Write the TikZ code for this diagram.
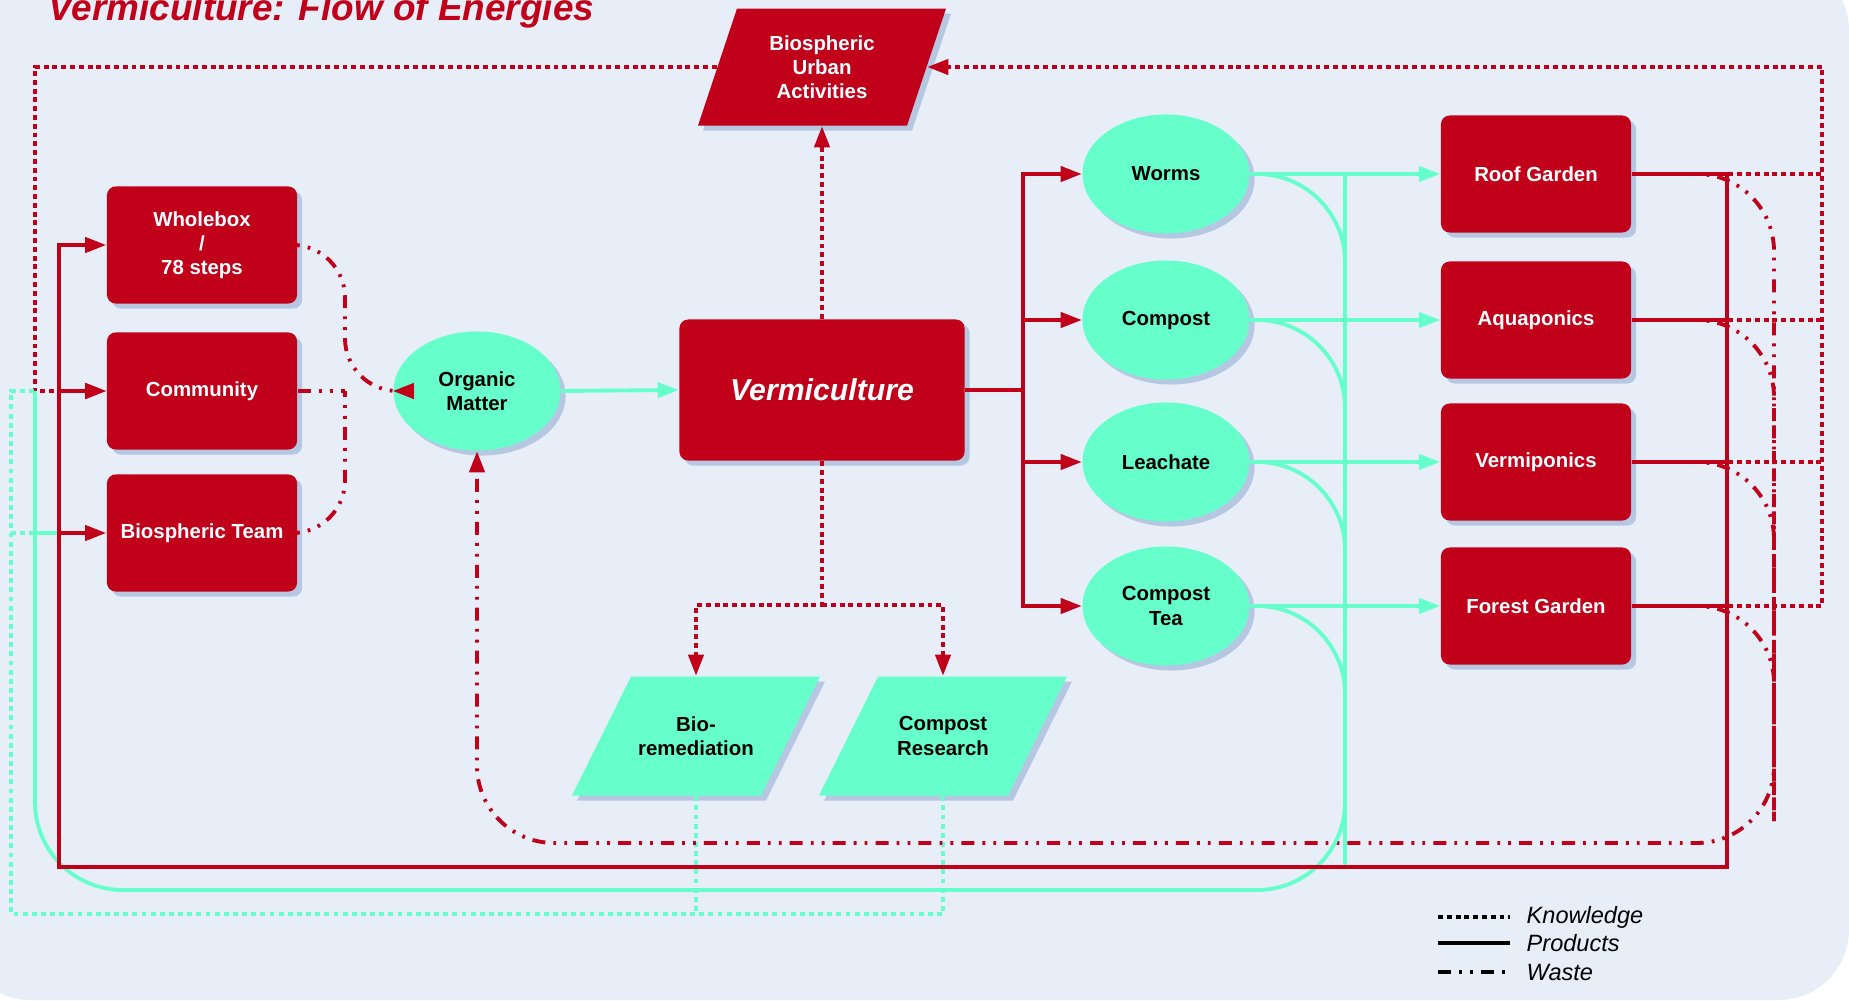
\documentclass[tikz,border=0pt]{standalone}
\usepackage{fontspec}
\setmainfont{Liberation Sans}
\usetikzlibrary{shapes}
\usetikzlibrary{arrows.meta}
\usetikzlibrary{shadows}
\usetikzlibrary{calc}

\definecolor{vred}{RGB}{193,0,26}
\definecolor{mint}{RGB}{102,255,204}
\definecolor{paper}{RGB}{231,238,248}
\definecolor{shadowblue}{RGB}{182,199,225}

\begin{document}
\begin{tikzpicture}[x=0.01cm, y=-0.01cm,
	txt/.style={font=\fontsize{5.8}{6.9}\selectfont\bfseries, align=center},
	flat/.style={drop shadow={opacity=1, fill=shadowblue, shadow xshift=0.05cm, shadow yshift=-0.05cm}},
	redbox/.style={txt, flat, rectangle, rounded corners=2.5pt, fill=vred, text=white, minimum width=1.9cm, minimum height=1.17cm},
	blob/.style={txt, flat, ellipse, fill=mint, inner sep=0pt, minimum width=1.67cm, minimum height=1.19cm},
	slab/.style={txt, rectangle, inner sep=0pt, minimum width=1.89cm, minimum height=1.19cm},
	know/.style={vred, line width=1.1pt, dash pattern=on 1.4pt off 1.1pt},
	prod/.style={vred, line width=1.1pt},
	waste/.style={vred, line width=1.1pt, dash pattern=on 3.7pt off 2.3pt on 0.8pt off 2.3pt on 0.8pt off 2.3pt},
	mprod/.style={mint, line width=1.1pt},
	mknow/.style={mint, line width=1.1pt, dash pattern=on 1.4pt off 1.2pt},
	arr/.style={-{Triangle[length=6pt,width=4.3pt]}},
	legend/.style={font=\fontsize{6.7}{8}\selectfont\itshape, anchor=west, inner sep=0pt}
]
	\useasboundingbox (0,0) rectangle (1849,1000);
	\fill[paper, rounded corners=20] (-40,-40) rectangle (1849,1000);

	\node[anchor=base west, text=vred, font=\fontsize{10.5}{12}\selectfont\bfseries\itshape] (head) at (36,21) {Vermiculture: Flow of Energies};

	% parallelograms
	\coordinate (urbanc) at (822,67);
	\coordinate (bioremc) at (696,736);
	\coordinate (researchc) at (943,736);
	\fill[vred, flat] ($(urbanc)+(-124,58.5)$) -- ($(urbanc)+(85,58.5)$) -- ($(urbanc)+(124,-58.5)$) -- ($(urbanc)+(-85,-58.5)$) -- cycle;
	\foreach \c in {bioremc,researchc}
		\fill[mint, flat] ($(\c)+(-124,59.5)$) -- ($(\c)+(65,59.5)$) -- ($(\c)+(124,-59.5)$) -- ($(\c)+(-65,-59.5)$) -- cycle;
	\node[slab, text=white, minimum width=2.09cm, minimum height=1.17cm] (urban) at (urbanc) {Biospheric\\Urban\\Activities};
	\node[slab] (biorem) at (bioremc) {Bio-\\remediation};
	\node[slab] (research) at (researchc) {Compost\\Research};

	% inputs
	\node[redbox] (whole) at (202,245) {Wholebox\\/\\78 steps};
	\node[redbox] (comm) at (202,391) {Community};
	\node[redbox] (team) at (202,533) {Biospheric Team};
	\node[blob] (organic) at (477,391) {Organic\\Matter};
	\node[redbox, minimum width=2.85cm, minimum height=1.41cm, font=\fontsize{8.6}{10}\selectfont\bfseries\itshape] (verm) at (822,390) {Vermiculture};

	% outputs
	\node[blob] (worms) at (1166,174) {Worms};
	\node[blob] (compost) at (1166,320) {Compost};
	\node[blob] (leach) at (1166,462) {Leachate};
	\node[blob] (tea) at (1166,606) {Compost\\Tea};
	\node[redbox] (roof) at (1536,174) {Roof Garden};
	\node[redbox] (aqua) at (1536,320) {Aquaponics};
	\node[redbox] (vponic) at (1536,462) {Vermiponics};
	\node[redbox] (forest) at (1536,606) {Forest Garden};

	\coordinate (kr) at (1822,67);
	\coordinate (pl) at (59,867);
	\coordinate (pr) at (1727,867);
	\coordinate (ml) at (35,890);
	\coordinate (mr) at (1345,890);
	\coordinate (mrtop) at (1345,865);
	\coordinate (dl) at (11,914);
	\coordinate (wr) at (1774,843);
	\coordinate (wrtop) at (1774,821);
	\coordinate (wl) at (345,391);
	\coordinate (vbus) at (1023,390);
	\coordinate (ksplit) at (822,605);

	% knowledge
	\foreach \b in {roof,aqua,vponic}
		\draw[know] (\b.east) -- (kr |- \b.east);
	\draw[know, arr] (forest.east) -| (kr) -- (urban.east);
	\draw[know, arr] (urban.west) -| (ml |- comm.west) -- (comm.west);
	\draw[know, arr] (verm.north) -- (urban.south);
	\draw[know, arr] (verm.south) -- (ksplit) -| (biorem.north);
	\draw[know, arr] (ksplit) -| (research.north);

	\draw[mknow] (biorem.south) -- (biorem.south |- dl);
	\draw[mknow] (research.south) |- (dl) |- (ml |- comm.west);
	\draw[mknow] (dl |- team.west) -- (ml |- team.west);

	% waste
	\draw[waste, arr, rounded corners=15] (whole.east) -| (wl) -- (organic.west);
	\draw[waste, rounded corners=15] (team.east) -| (wl);
	\draw[waste] (comm.east) -- (wl);
	\draw[waste, arr, rounded corners=22] (roof.east) -| (wr) -| (organic.south);
	\foreach \b in {aqua,vponic,forest}
		\draw[waste, rounded corners=22] (\b.east) -| (wrtop);

	% products
	\draw[mprod, rounded corners=25] (worms.east) -| (mr) -| (ml |- comm.west);
	\foreach \e in {compost,leach,tea}
		\draw[mprod, rounded corners=25] (\e.east) -| (mrtop);
	\draw[mprod] (mr |- worms.east) -- (mrtop);
	\draw[mprod] (ml |- team.west) -- (pl |- team.west);
	\draw[mprod, arr] (organic.east) -- (verm.west);
	\foreach \e/\b in {worms/roof, compost/aqua, leach/vponic, tea/forest}
		\draw[mprod, arr] (\e.east) -- (\b.west);

	\draw[prod] (verm.east) -- (vbus);
	\foreach \e in {worms,compost,leach,tea}
		\draw[prod, arr] (vbus) |- (\e.west);
	\foreach \b in {aqua,vponic,forest}
		\draw[prod] (\b.east) -- (pr |- \b.east);
	\draw[prod, arr] (roof.east) -| (pr) -- (pl) |- (whole.west);
	\draw[prod, arr] (pl |- comm.west) -- (comm.west);
	\draw[prod, arr] (pl |- team.west) -- (team.west);

	% legend
	\node[legend] (lknow) at (1526,917) {Knowledge};
	\node[legend] (lprod) at (1526,943) {Products};
	\node[legend] (lwaste) at (1526,972) {Waste};
	\draw[black, line width=1pt, dash pattern=on 1.4pt off 1.1pt] ($(lknow.west)+(-88,0)$) -- ($(lknow.west)+(-16,0)$);
	\draw[black, line width=1pt] ($(lprod.west)+(-88,0)$) -- ($(lprod.west)+(-16,0)$);
	\draw[black, line width=1pt, dash pattern=on 3.7pt off 2.3pt on 0.8pt off 2.3pt on 0.8pt off 2.3pt] ($(lwaste.west)+(-88,0)$) -- ($(lwaste.west)+(-16,0)$);
\end{tikzpicture}
\end{document}
